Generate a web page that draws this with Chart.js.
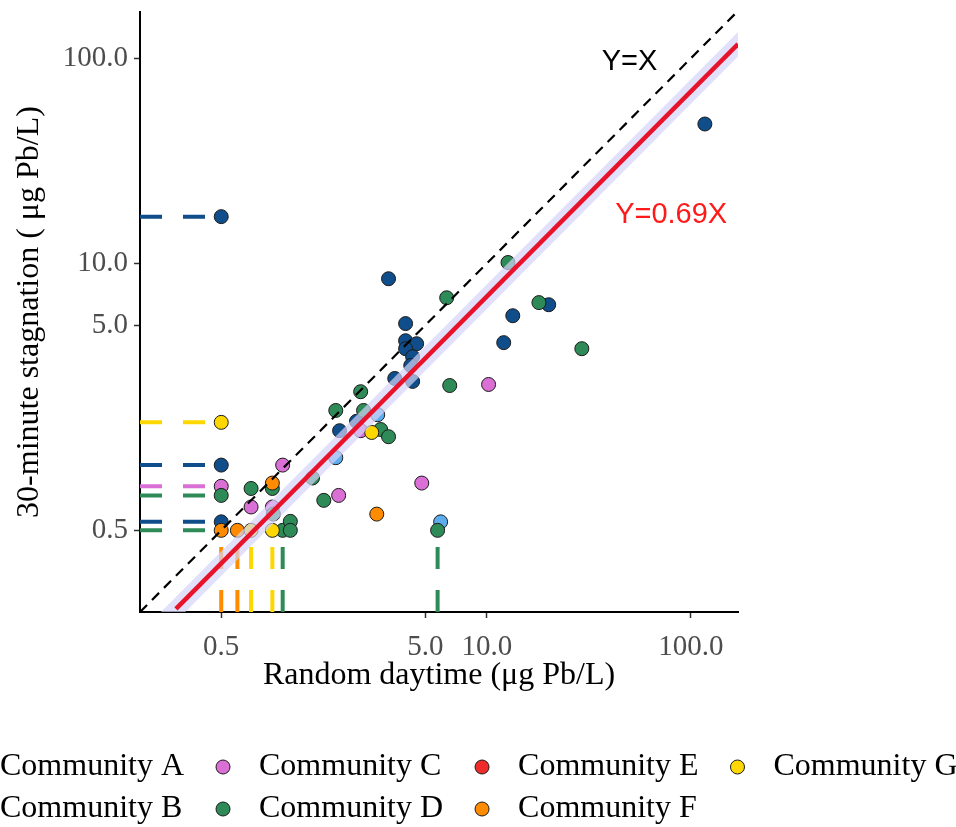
<!DOCTYPE html>
<html lang="en">
<head>
<meta charset="UTF-8">
<title>Random daytime vs 30-minute stagnation</title>
<style>
  html, body { margin: 0; padding: 0; background: #fff; overflow: hidden; }
  #wrap { width: 956px; height: 827px; }
</style>
</head>
<body>
<div id="wrap"><canvas id="leadChart" width="956" height="827"></canvas></div>
<script src="https://cdn.jsdelivr.net/npm/chart.js"></script>
<script>
// communities + colours (legend is column-major, 2 rows)
const communities = ['Community A', 'Community B', 'Community C', 'Community D', 'Community E', 'Community F', 'Community G'];
const colors = ['#104E8B', '#5CACEE', '#DA70D6', '#2E8B57', '#EE2C2C', '#FF8C00', '#FFD700'];

// random daytime (x) / 30-minute stagnation (y), ug Pb/L
const xA = [0.5, 0.5, 0.5, 117, 3.30, 4.00, 4.00, 4.53, 4.00, 4.33, 4.24, 3.54, 4.33, 13.4, 20.1, 12.1, 2.30, 1.90];
const yA = [16.9, 1.04, 0.55, 47.8, 8.42, 5.09, 4.20, 4.06, 3.84, 3.51, 3.18, 2.75, 2.66, 5.56, 6.29, 4.11, 1.70, 1.53];
const xB = [2.92, 1.82, 5.94];
const yB = [1.83, 1.13, 0.55];
const xC = [0.5, 1.0, 0.70, 0.89, 1.88, 2.41, 4.80, 10.2];
const yC = [0.82, 1.04, 0.65, 0.65, 0.74, 1.53, 0.85, 2.57];
const xD = [0.5, 0.70, 0.89, 0.90, 1.0, 1.09, 1.09, 1.40, 1.59, 1.82, 2.49, 2.41, 3.02, 3.30, 6.58, 6.36, 12.7, 18.0, 29.2, 5.74];
const yD = [0.74, 0.80, 0.80, 0.60, 0.5, 0.553, 0.5, 0.90, 0.70, 1.92, 1.92, 2.37, 1.55, 1.43, 2.54, 6.80, 10.1, 6.44, 3.84, 0.5];
const xE = [];
const yE = [];
const xF = [0.5, 0.60, 0.89, 2.89];
const yF = [0.5, 0.5, 0.85, 0.60];
const xG = [0.5, 0.70, 0.89, 2.73];
const yG = [1.68, 0.5, 0.5, 1.50];
const xs = [xA, xB, xC, xD, xE, xF, xG];
const ys = [yA, yB, yC, yD, yE, yF, yG];

// censored values: dashed marks along the axes
const leftMarkY = [16.9, 1.68, 1.04, 0.82, 0.74, 0.55, 0.5];
const leftMarkCom = [0, 6, 0, 2, 3, 0, 3];
const bottomMarkX = [0.5, 0.60, 0.70, 0.89, 1.0, 5.74];
const bottomMarkCom = [5, 5, 6, 6, 3, 3];
const markEnd = 0.42;

// axes
const axisMin = 0.2, xMax = 170, yMax = 168;
const tickVals = [0.5, 5, 10, 100];
const tickLabels = ['0.5', '5.0', '10.0', '100.0'];

// fit  Y = 0.69X  with its band
const fitSlope = 0.69, bandLo = 0.60, bandHi = 0.79;
const fitX = [0.3, 170];
const bandX = [0.25, 170];

const noteText = ['Y=X', 'Y=0.69X'];
const noteX = [50, 80];
const noteY = [96, 17.2];
const noteColor = ['#000000', '#ff1a1a'];

const serif = '"Liberation Serif", "Times New Roman", serif';
const sans = '"Liberation Sans", Arial, sans-serif';

const datasets = [];

datasets.push({
  type: 'line', data: [{x: axisMin, y: axisMin}, {x: xMax, y: xMax}],
  borderColor: '#000', borderWidth: 2.2, borderDash: [10, 7], pointRadius: 0, fill: false, order: 1
});
datasets.push({
  type: 'line', data: fitX.map(v => ({x: v, y: v * fitSlope})),
  borderColor: '#e8132b', borderWidth: 4.5, pointRadius: 0, fill: false, order: 0
});
datasets.push({
  type: 'line', data: bandX.map(v => ({x: v, y: v * bandHi})),
  borderWidth: 0, pointRadius: 0, fill: '+1', backgroundColor: 'rgba(212,212,250,0.7)', order: 5
});
datasets.push({
  type: 'line', data: bandX.map(v => ({x: v, y: v * bandLo})),
  borderWidth: 0, pointRadius: 0, fill: false, order: 6
});

communities.forEach((name, i) => {
  datasets.push({
    type: 'scatter', label: name,
    data: xs[i].map((v, k) => ({x: v, y: ys[i][k]})),
    backgroundColor: colors[i], borderColor: '#1a1a1a', borderWidth: 1,
    pointRadius: 7, order: 16 - i
  });
});

leftMarkY.forEach((v, k) => {
  datasets.push({
    type: 'line', data: [{x: axisMin, y: v}, {x: markEnd, y: v}],
    borderColor: colors[leftMarkCom[k]], borderWidth: 4, borderDash: [22, 21],
    borderCapStyle: 'butt', pointRadius: 0, fill: false, order: 20
  });
});
bottomMarkX.forEach((v, k) => {
  datasets.push({
    type: 'line', data: [{x: v, y: axisMin}, {x: v, y: markEnd}],
    borderColor: colors[bottomMarkCom[k]], borderWidth: 4, borderDash: [22, 21],
    borderCapStyle: 'butt', pointRadius: 0, fill: false, order: 20
  });
});

function logAxis(max, title, isX) {
  return {
    type: 'logarithmic',
    position: isX ? 'bottom' : 'left',
    min: axisMin, max: max,
    afterBuildTicks: s => { s.ticks = tickVals.map(v => ({value: v})); },
    afterFit: s => {
      if (isX) { s.height = 90; s.paddingLeft = 0; s.paddingRight = 0; }
      else { s.width = 140; s.paddingTop = 0; s.paddingBottom = 0; }
    },
    ticks: {
      autoSkip: false, padding: isX ? 12 : 6, color: '#4d4d4d',
      font: {family: serif, size: 29},
      callback: (v, idx) => tickLabels[idx]
    },
    grid: {drawOnChartArea: false, drawTicks: true, tickLength: 6, tickWidth: 1.5, tickColor: '#333'},
    border: {display: true, color: '#000', width: 2},
    title: {
      display: true, text: title, color: '#000',
      font: {family: serif, size: 32},
      padding: isX ? {top: 0, bottom: 7} : {top: 10, bottom: 0}
    }
  };
}

// legend under the plot, columns left to right
const bottomLegend = {
  id: 'bottomLegend',
  afterDraw(chart) {
    const ctx = chart.ctx;
    const rowY = [767, 809];
    ctx.save();
    ctx.font = '32px ' + serif;
    ctx.textBaseline = 'middle';
    ctx.textAlign = 'left';
    let labelX = 0;
    for (let c = 0; c * 2 < communities.length; c++) {
      let widest = 0;
      for (let r = 0; r < 2; r++) {
        const i = c * 2 + r;
        if (i >= communities.length) break;
        ctx.beginPath();
        ctx.arc(labelX - 36, rowY[r], 7, 0, Math.PI * 2);
        ctx.fillStyle = colors[i];
        ctx.fill();
        ctx.lineWidth = 1;
        ctx.strokeStyle = '#1a1a1a';
        ctx.stroke();
        ctx.fillStyle = '#000';
        ctx.fillText(communities[i], labelX, rowY[r]);
        widest = Math.max(widest, ctx.measureText(communities[i]).width);
      }
      labelX += widest + 75;
    }
    ctx.restore();
  }
};

const lineNotes = {
  id: 'lineNotes',
  afterDatasetsDraw(chart) {
    const ctx = chart.ctx;
    const sx = chart.scales.x, sy = chart.scales.y;
    ctx.save();
    ctx.font = '29px ' + sans;
    ctx.textAlign = 'center';
    ctx.textBaseline = 'middle';
    noteText.forEach((t, i) => {
      ctx.fillStyle = noteColor[i];
      ctx.fillText(t, sx.getPixelForValue(noteX[i]), sy.getPixelForValue(noteY[i]));
    });
    ctx.restore();
  }
};

new Chart(document.getElementById('leadChart'), {
  type: 'scatter',
  data: {datasets: datasets},
  options: {
    responsive: false,
    devicePixelRatio: 1,
    animation: false,
    layout: {padding: {left: 0, top: 12, right: 218, bottom: 125}},
    scales: {
      x: logAxis(xMax, 'Random daytime (μg Pb/L)', true),
      y: logAxis(yMax, '30-minute stagnation ( μg Pb/L)', false)
    },
    plugins: {legend: {display: false}, tooltip: {enabled: false}}
  },
  plugins: [lineNotes, bottomLegend]
});
</script>
</body>
</html>
